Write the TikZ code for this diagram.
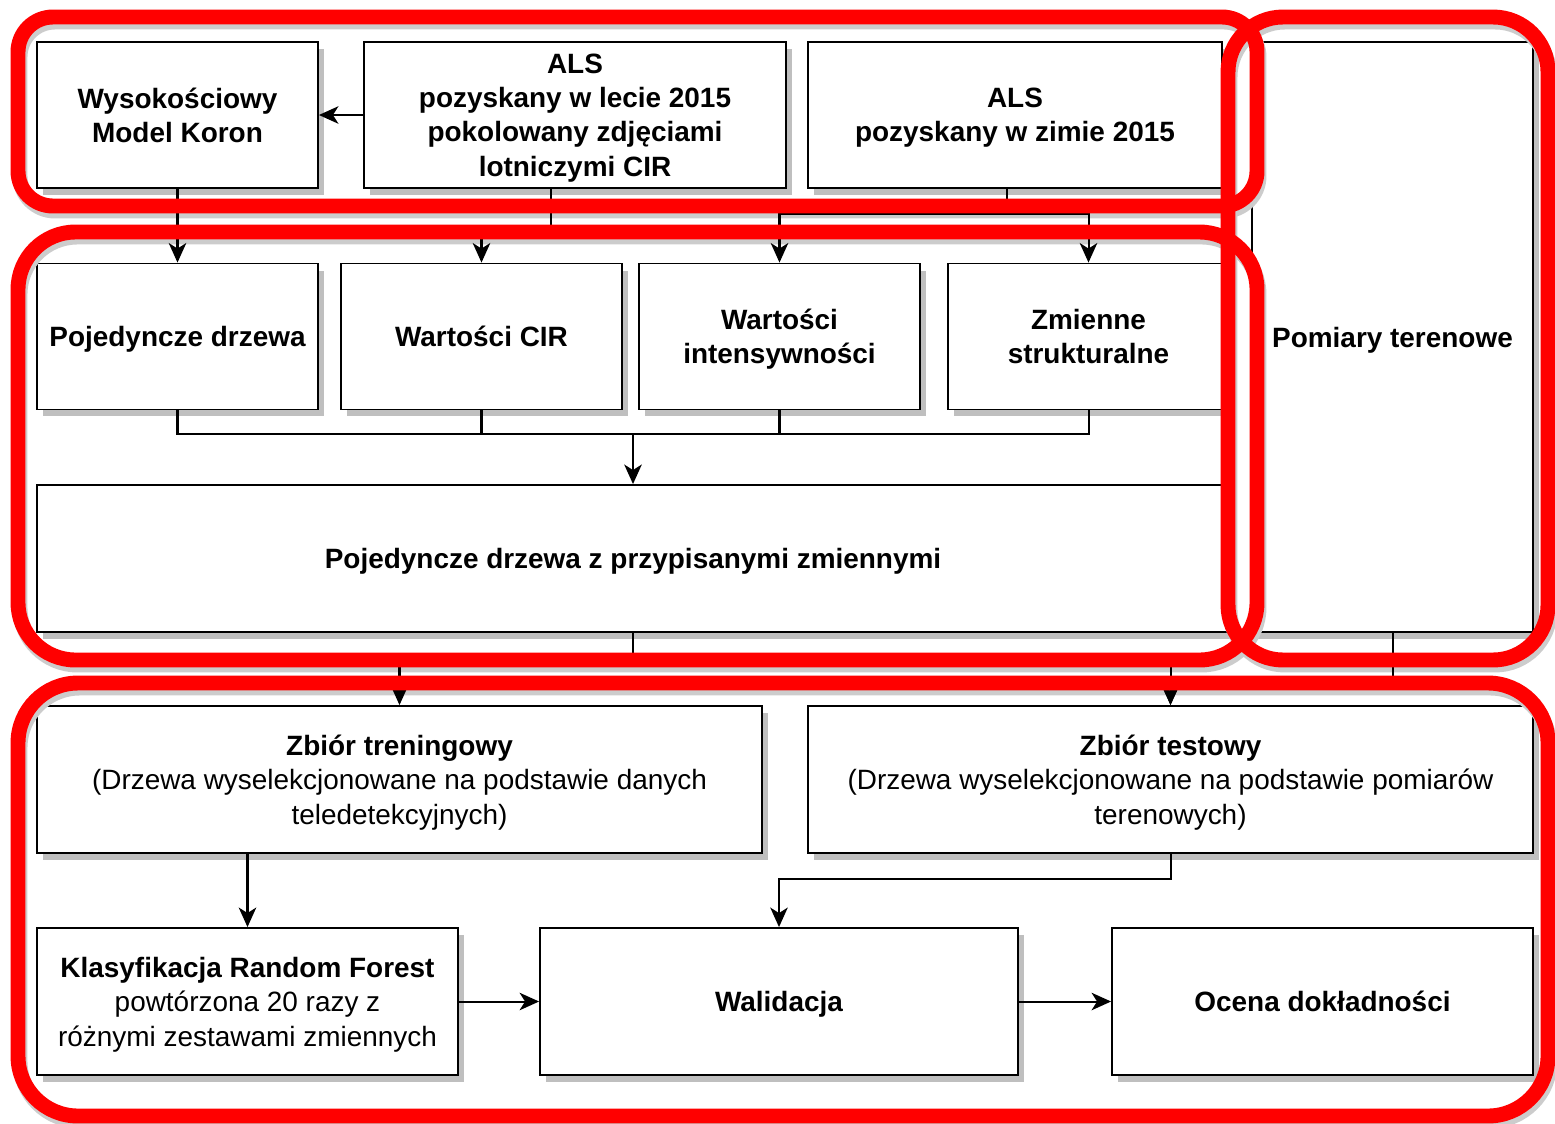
\documentclass[tikz,border=0pt]{standalone}
\usepackage{fontspec}
\setsansfont{Liberation Sans}
\usetikzlibrary{arrows.meta,positioning,calc,shadows}
\definecolor{ramka}{HTML}{FF0000}
\definecolor{cien}{HTML}{BFBFBF}
\definecolor{cienr}{HTML}{CCCCCC}
\definecolor{linia}{HTML}{000000}
\tikzset{
  every node/.style = {font=\sffamily\fontsize{15.9}{19.6}\selectfont},
  blok/.style       = {draw=linia, fill=white, line width=1.1pt, inner sep=2pt,
                       align=center, text depth=0pt,
                       drop shadow={shadow xshift=0.12cm, shadow yshift=-0.14cm,
                                    fill=cien, opacity=1}},
  blokb/.style      = {blok, font=\sffamily\bfseries\fontsize{15.9}{19.6}\selectfont},
  maly/.style       = {minimum width=5.62cm, minimum height=2.92cm},
  strzalka/.style   = {-{Stealth[length=3.9mm, width=3.5mm, inset=1.1mm]},
                       draw=linia, line width=1.15pt},
  polacz/.style     = {draw=linia, line width=1.15pt},
  obwod/.style      = {draw=ramka, line width=8.5pt},
  obwodcien/.style  = {draw=cienr, line width=8.5pt, xshift=0.04cm, yshift=-0.1cm},
}

\begin{document}
\begin{tikzpicture}[x=0.02cm, y=-0.02cm]
\useasboundingbox (0,0) rectangle (1555,1123);

% =============================================================================
% Dane wejsciowe
% =============================================================================
\node[blokb, maly] (wmk) at (177.5,115) {Wysokościowy\\Model Koron};
\node[blokb, minimum width=8.44cm, minimum height=2.92cm] (alslato) at (575,115)
  {ALS\\pozyskany w lecie 2015\\pokolowany zdjęciami\\lotniczymi CIR};
\node[blokb, minimum width=8.28cm, minimum height=2.92cm] (alszima) at (1015,115)
  {ALS\\pozyskany w zimie 2015};
\node[blokb, minimum width=5.62cm, minimum height=11.8cm] (pomiary) at (1392.5,337)
  {Pomiary terenowe};

% =============================================================================
% Zmienne dla pojedynczych drzew
% =============================================================================
\node[blokb, maly] (pd)  at (177.5,336.5) {Pojedyncze drzewa};
\node[blokb, maly] (cir) at (481.5,336.5) {Wartości CIR};
\node[blokb, maly] (int) at (779.5,336.5) {Wartości\\intensywności};
\node[blokb, maly] (zm)  at (1088.5,336.5) {Zmienne\\strukturalne};
\node[blokb, minimum width=23.84cm, minimum height=2.94cm] (pdz) at (633,558.5)
  {Pojedyncze drzewa z przypisanymi zmiennymi};

% =============================================================================
% Klasyfikacja i ocena
% =============================================================================
\node[blok, minimum width=14.5cm, minimum height=2.94cm] (tren) at (399.5,779.5)
  {\textbf{Zbiór treningowy}\\(Drzewa wyselekcjonowane na podstawie danych\\teledetekcyjnych)};
\node[blok, minimum width=14.5cm, minimum height=2.94cm] (test) at (1170.5,779.5)
  {\textbf{Zbiór testowy}\\(Drzewa wyselekcjonowane na podstawie pomiarów\\terenowych)};
\node[blok, minimum width=8.42cm, minimum height=2.94cm] (rf) at (247.5,1001.5)
  {\textbf{Klasyfikacja Random Forest}\\powtórzona 20 razy z\\różnymi zestawami zmiennych};
\node[blokb, minimum width=9.56cm, minimum height=2.94cm] (wal) at (779,1001.5) {Walidacja};
\node[blokb, minimum width=8.42cm, minimum height=2.94cm] (ocena) at (1322.5,1001.5)
  {Ocena dokładności};

% cienie ramek
\draw[obwodcien, rounded corners=0.7cm]  (18,17) rectangle (1257,206);
\draw[obwodcien, rounded corners=1.15cm] (18,232) rectangle (1257,660);
\draw[obwodcien, rounded corners=1.1cm]  (1228,17) rectangle (1548,660);
\draw[obwodcien, rounded corners=1.2cm]  (18,683) rectangle (1548,1116);

% polaczenia
\draw[strzalka] (alslato) -- (wmk);
\draw[strzalka] (wmk) -- (pd);
\draw[strzalka] ([xshift=-0.48cm]alslato.south) -- ++(0,37) -| (cir);
\coordinate (rozw) at (1007,214);
\draw[polacz] (alszima.south -| rozw) -- (rozw);
\draw[strzalka] (rozw) -| (int);
\draw[strzalka] (rozw) -| (zm);

\coordinate (zbieg) at (633,434);
\draw[polacz] (pd.south) -- ++(0,24) -| (zm.south);
\draw[polacz] (cir.south) -- ++(0,24);
\draw[polacz] (int.south) -- ++(0,24);
\draw[strzalka] (zbieg) -- (pdz);

\coordinate (podzial) at (633,660);
\draw[polacz] (pdz.south) -- (podzial);
\draw[strzalka] (podzial) -| (tren);
\draw[strzalka] (podzial) -| (test);
\draw[strzalka] (pomiary.south) -- ++(0,51) -| (test);

\draw[strzalka] (tren.south -| rf) -- (rf);
\draw[strzalka] (test.south) -- ++(0,25) -| (wal);
\draw[strzalka] (rf) -- (wal);
\draw[strzalka] (wal) -- (ocena);

% ramki
\draw[obwod, rounded corners=0.7cm]  (18,17) rectangle (1257,206);
\draw[obwod, rounded corners=1.15cm] (18,232) rectangle (1257,660);
\draw[obwod, rounded corners=1.1cm]  (1228,17) rectangle (1548,660);
\draw[obwod, rounded corners=1.2cm]  (18,683) rectangle (1548,1116);

\end{tikzpicture}
\end{document}
